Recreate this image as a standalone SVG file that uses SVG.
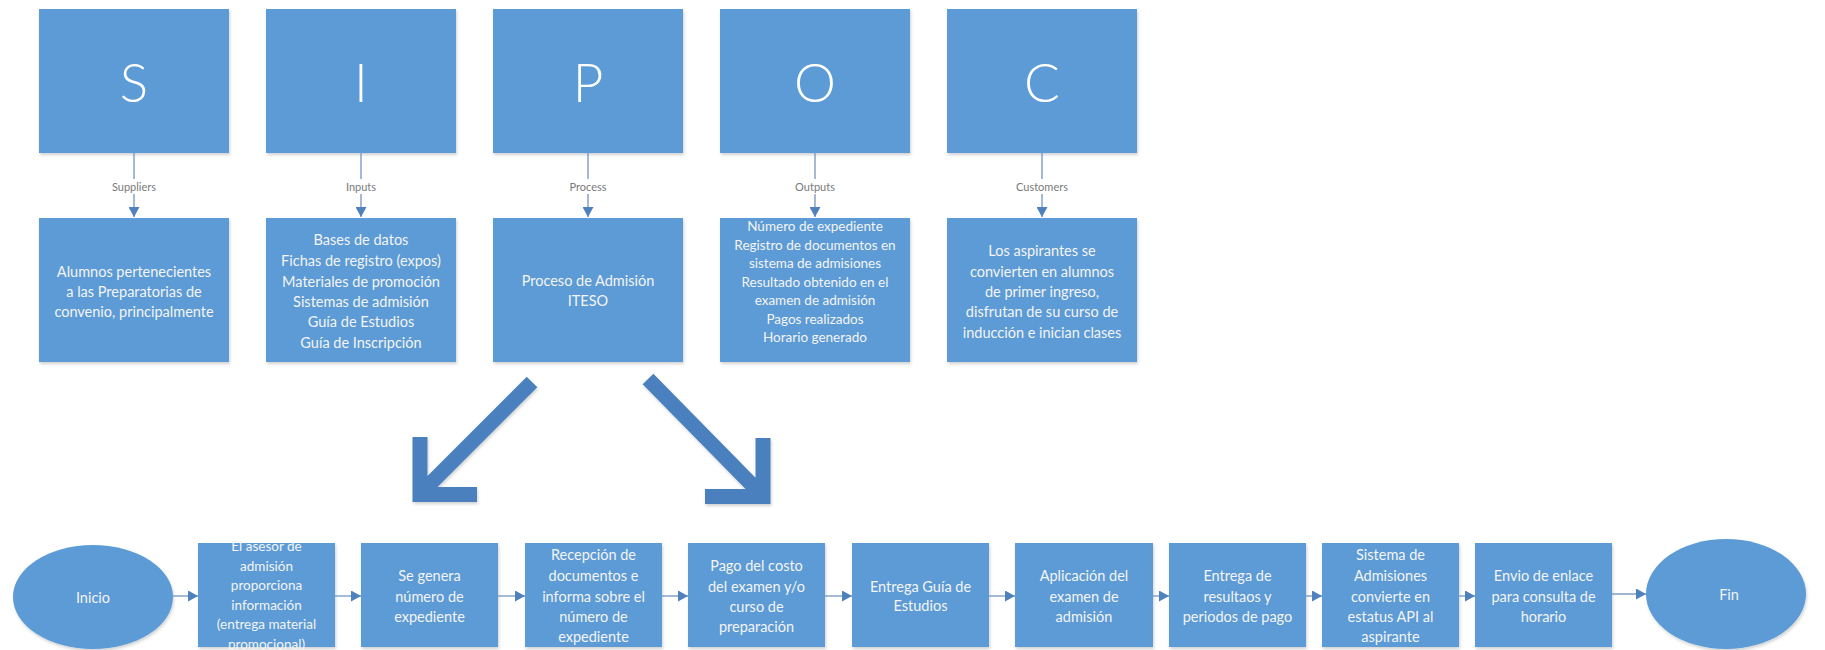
<svg xmlns="http://www.w3.org/2000/svg" width="1825" height="650" viewBox="0 0 1825 650">
<style>
  .box { fill: #5b9bd5; filter: url(#sh); }
  .big { font-family: Lato, "Open Sans", "Liberation Sans", sans-serif; font-weight: 300; font-size: 53px; fill: #ffffff; text-anchor: middle; }
  .t { font-family: Lato, "Open Sans", "Liberation Sans", sans-serif; font-size: 14.5px; fill: #f4f4f4; text-anchor: middle; dominant-baseline: central; }
  .ts { font-family: Lato, "Open Sans", "Liberation Sans", sans-serif; font-size: 13.5px; fill: #f4f4f4; text-anchor: middle; dominant-baseline: central; }
  .lbl { font-family: Lato, "Open Sans", "Liberation Sans", sans-serif; font-size: 11px; fill: #7a7a7a; text-anchor: middle; dominant-baseline: central; }
  .con { fill: none; stroke: #7f9cc4; stroke-width: 1.4; }
  .big-arrow { fill: none; stroke: #4c80bf; stroke-width: 15; stroke-linejoin: miter; stroke-linecap: butt; filter: url(#sh); }
</style>
<defs>
  <filter id="sh" x="-10%" y="-10%" width="120%" height="125%">
    <feDropShadow dx="1" dy="2" stdDeviation="1.5" flood-color="#000000" flood-opacity="0.18"/>
  </filter>
  <marker id="ah" markerUnits="userSpaceOnUse" markerWidth="11" markerHeight="11" refX="10" refY="5.5" orient="auto">
    <path d="M0,0 L10,5.5 L0,11 z" fill="#4f81bd"/>
  </marker>
</defs>
<rect width="1825" height="650" fill="#ffffff"/>

<!-- SIPOC header boxes -->
<g id="S"><rect class="box" x="39" y="9" width="190" height="144"/><text class="big" x="134" y="102">S</text></g>
<g id="I"><rect class="box" x="266" y="9" width="190" height="144"/><text class="big" x="361" y="102">I</text></g>
<g id="P"><rect class="box" x="493" y="9" width="190" height="144"/><text class="big" x="588" y="102">P</text></g>
<g id="O"><rect class="box" x="720" y="9" width="190" height="144"/><text class="big" x="815" y="102">O</text></g>
<g id="C"><rect class="box" x="947" y="9" width="190" height="144"/><text class="big" x="1042" y="102">C</text></g>

<!-- SIPOC detail boxes -->
<g id="suppliers-detail"><rect class="box" x="39" y="218" width="190" height="144"/>
  <text class="t" x="134" y="271">Alumnos pertenecientes</text>
  <text class="t" x="134" y="291">a las Preparatorias de</text>
  <text class="t" x="134" y="311">convenio, principalmente</text>
</g>
<g id="inputs-detail"><rect class="box" x="266" y="218" width="190" height="144"/>
  <text class="t" x="361" y="239">Bases de datos</text>
  <text class="t" x="361" y="260">Fichas de registro (expos)</text>
  <text class="t" x="361" y="281">Materiales de promoción</text>
  <text class="t" x="361" y="301">Sistemas de admisión</text>
  <text class="t" x="361" y="321">Guía de Estudios</text>
  <text class="t" x="361" y="342">Guía de Inscripción</text>
</g>
<g id="process-detail"><rect class="box" x="493" y="218" width="190" height="144"/>
  <text class="t" x="588" y="280">Proceso de Admisión</text>
  <text class="t" x="588" y="300">ITESO</text>
</g>
<g id="outputs-detail"><rect class="box" x="720" y="218" width="190" height="144"/>
  <text class="ts" x="815" y="226">Número de expediente</text>
  <text class="ts" x="815" y="244.5">Registro de documentos en</text>
  <text class="ts" x="815" y="263">sistema de admisiones</text>
  <text class="ts" x="815" y="281.5">Resultado obtenido en el</text>
  <text class="ts" x="815" y="300">examen de admisión</text>
  <text class="ts" x="815" y="318.5">Pagos realizados</text>
  <text class="ts" x="815" y="337">Horario generado</text>
</g>
<g id="customers-detail"><rect class="box" x="947" y="218" width="190" height="144"/>
  <text class="t" x="1042" y="250">Los aspirantes se</text>
  <text class="t" x="1042" y="271">convierten en alumnos</text>
  <text class="t" x="1042" y="291">de primer ingreso,</text>
  <text class="t" x="1042" y="311">disfrutan de su curso de</text>
  <text class="t" x="1042" y="332">inducción e inician clases</text>
</g>

<!-- Process flow nodes -->
<g id="inicio"><ellipse class="box" cx="93" cy="597" rx="80" ry="52"/><text class="t" x="93" y="597">Inicio</text></g>
<g id="step1"><rect class="box" x="198" y="543" width="137" height="104"/>
  <text class="ts" x="266.5" y="546">El asesor de</text>
  <text class="ts" x="266.5" y="565.5">admisión</text>
  <text class="ts" x="266.5" y="585">proporciona</text>
  <text class="ts" x="266.5" y="604.5">información</text>
  <text class="ts" x="266.5" y="624">(entrega material</text>
  <text class="ts" x="266.5" y="643.5">promocional)</text>
</g>
<g id="step2"><rect class="box" x="361" y="543" width="137" height="104"/>
  <text class="t" x="429.5" y="575">Se genera</text>
  <text class="t" x="429.5" y="596">número de</text>
  <text class="t" x="429.5" y="616">expediente</text>
</g>
<g id="step3"><rect class="box" x="525" y="543" width="137" height="104"/>
  <text class="t" x="593.5" y="554">Recepción de</text>
  <text class="t" x="593.5" y="575">documentos e</text>
  <text class="t" x="593.5" y="596">informa sobre el</text>
  <text class="t" x="593.5" y="616">número de</text>
  <text class="t" x="593.5" y="636">expediente</text>
</g>
<g id="step4"><rect class="box" x="688" y="543" width="137" height="104"/>
  <text class="t" x="756.5" y="565">Pago del costo</text>
  <text class="t" x="756.5" y="586">del examen y/o</text>
  <text class="t" x="756.5" y="606">curso de</text>
  <text class="t" x="756.5" y="626">preparación</text>
</g>
<g id="step5"><rect class="box" x="852" y="543" width="137" height="104"/>
  <text class="t" x="920.5" y="586">Entrega Guía de</text>
  <text class="t" x="920.5" y="605">Estudios</text>
</g>
<g id="step6"><rect class="box" x="1015" y="543" width="138" height="104"/>
  <text class="t" x="1084" y="575">Aplicación del</text>
  <text class="t" x="1084" y="596">examen de</text>
  <text class="t" x="1084" y="616">admisión</text>
</g>
<g id="step7"><rect class="box" x="1169" y="543" width="137" height="104"/>
  <text class="t" x="1237.5" y="575">Entrega de</text>
  <text class="t" x="1237.5" y="596">resultaos y</text>
  <text class="t" x="1237.5" y="616">periodos de pago</text>
</g>
<g id="step8"><rect class="box" x="1322" y="543" width="137" height="104"/>
  <text class="t" x="1390.5" y="554">Sistema de</text>
  <text class="t" x="1390.5" y="575">Admisiones</text>
  <text class="t" x="1390.5" y="596">convierte en</text>
  <text class="t" x="1390.5" y="616">estatus API al</text>
  <text class="t" x="1390.5" y="636">aspirante</text>
</g>
<g id="step9"><rect class="box" x="1475" y="543" width="137" height="104"/>
  <text class="t" x="1543.5" y="575">Envio de enlace</text>
  <text class="t" x="1543.5" y="596">para consulta de</text>
  <text class="t" x="1543.5" y="616">horario</text>
</g>
<g id="fin"><ellipse class="box" cx="1726" cy="594" rx="80" ry="55"/><text class="t" x="1729" y="594">Fin</text></g>

<!-- Connectors -->
<g id="connectors">
  <path class="con" d="M134 153 V179 M134 194 V217" marker-end="url(#ah)"/>
  <path class="con" d="M361 153 V179 M361 194 V217" marker-end="url(#ah)"/>
  <path class="con" d="M588 153 V179 M588 194 V217" marker-end="url(#ah)"/>
  <path class="con" d="M815 153 V179 M815 194 V217" marker-end="url(#ah)"/>
  <path class="con" d="M1042 153 V179 M1042 194 V217" marker-end="url(#ah)"/>
  <text class="lbl" x="134" y="186">Suppliers</text>
  <text class="lbl" x="361" y="186">Inputs</text>
  <text class="lbl" x="588" y="186">Process</text>
  <text class="lbl" x="815" y="186">Outputs</text>
  <text class="lbl" x="1042" y="186">Customers</text>

  <path class="big-arrow" d="M532 382 L423 491 M420 437 V494.5 H477"/>
  <path class="big-arrow" d="M648 379 L760 493 M763 438 V496.5 H705"/>

  <path class="con" d="M173 596 H198" marker-end="url(#ah)"/>
  <path class="con" d="M335 596 H361" marker-end="url(#ah)"/>
  <path class="con" d="M498 596 H525" marker-end="url(#ah)"/>
  <path class="con" d="M662 596 H688" marker-end="url(#ah)"/>
  <path class="con" d="M825 596 H852" marker-end="url(#ah)"/>
  <path class="con" d="M989 596 H1015" marker-end="url(#ah)"/>
  <path class="con" d="M1153 596 H1169" marker-end="url(#ah)"/>
  <path class="con" d="M1306 596 H1322" marker-end="url(#ah)"/>
  <path class="con" d="M1459 596 H1475" marker-end="url(#ah)"/>
  <path class="con" d="M1612 594 H1646" marker-end="url(#ah)"/>
</g>
</svg>
